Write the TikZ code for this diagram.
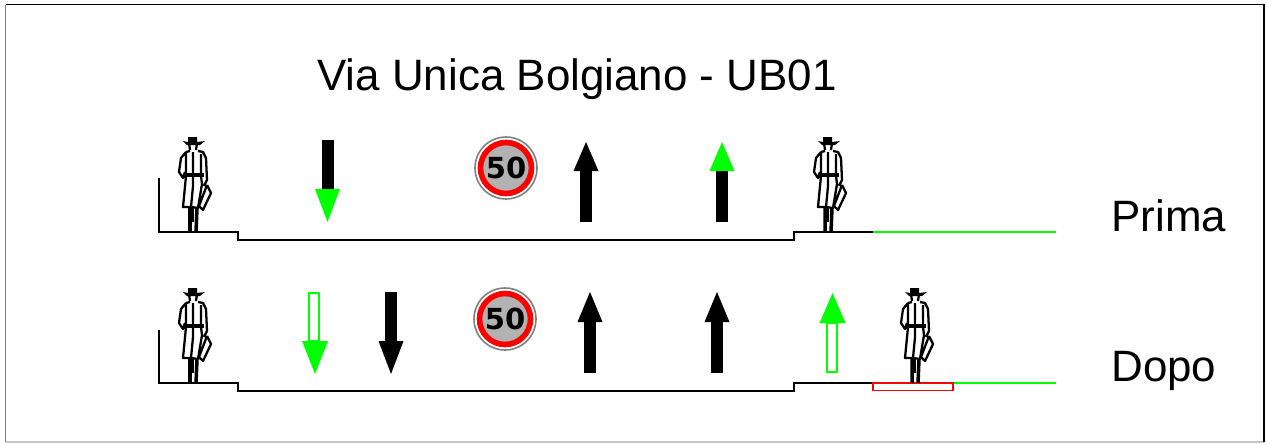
\documentclass[tikz,border=0pt]{standalone}
\usepackage{fontspec}
\setmainfont{Liberation Sans}
\newfontfamily\signfont{DejaVu Sans}
\definecolor{signgrey}{RGB}{178,178,178}
\definecolor{lanegreen}{RGB}{0,255,0}
\tikzset{
  road/.style={line width=1.2pt},
  roadgreen/.style={line width=1.2pt, draw=lanegreen},
  hollowshaft/.style={draw=lanegreen, line width=1.1pt},
  lanelabel/.style={font=\fontsize{25}{30}\selectfont, anchor=base west, inner sep=0pt},
  person/.pic={
    % figure stands with the feet at the origin
    \draw[line width=1.3pt, line join=round]
      (-7,-80) -- (-12,-74) -- (-14,-60) -- (-10,-54) -- (-8,-60)
      (-7,-80) -- (-3,-81) (5,-81) -- (10,-80) -- (13,-74) -- (14,-52) -- (11,-46)
      (-7,-80) -- (-7,-56) -- (-10,-25) -- (-2,-25) -- (0,-46)
      (0,-80) -- (0,-46) (8,-78) -- (8,-56) -- (9,-48) -- (5,-24) -- (-2,-25)
      (14,-47) -- (18,-39) -- (10,-22) -- (6,-26) -- (14,-47)
      (-4,-89) -- (-3,-82) (4,-89) -- (3,-82);
    \draw[line width=2.4pt] (-9,-57) -- (11,-57);
    \draw[line width=2pt] (-3,-24) -- (-3,0) (4,-24) -- (3,0);
    \draw[line width=1.2pt] (0,-24) -- (0,-10);
    \fill (-10,-91) -- (-5,-90) -- (-5,-95) -- (4,-95) -- (4,-90) -- (12,-91) -- (7,-87) -- (-6,-87) -- cycle;
  },
  speedsign/.pic={
    \draw[gray, line width=.9pt, fill=white] (0,0) circle (31);
    \draw[red, line width=3.2pt, fill=signgrey] (0,0) circle (25.5);
    \node[font=\signfont\bfseries\fontsize{16.5}{17}\selectfont, inner sep=0pt] at (0,0) {50};
  },
}
% arrows by x, shaft end y, head base y, tip y, then shaft and head colour
\newcommand{\lanearrow}[6]{
  \fill[#5] (#1-6,#2) rectangle (#1+6,#3);
  \fill[#6] (#1-12.5,#3) -- (#1+12.5,#3) -- (#1,#4) -- cycle;
}
\begin{document}
\begin{tikzpicture}[x=0.02cm, y=-0.02cm]
  \useasboundingbox (0,0) rectangle (1266,443);
  \draw[gray!45, line width=.6pt] (1264,442) -- (5.5,442);
  \draw[gray, line width=1pt] (5.5,442) -- (5.5,4.5);
  \draw[black, line width=1pt] (5.5,4.5) -- (1264,4.5) -- (1264,442);
  \node[font=\fontsize{25}{30}\selectfont, inner sep=0pt, anchor=base] (title) at (577,90) {Via Unica Bolgiano - UB01};
  \node[lanelabel] (prima) at (1111,231) {Prima};
  \node[lanelabel] (dopo) at (1111,381) {Dopo};
  % prima
  \draw[road] (159,178) -- (159,232) -- (238,232) -- (238,240) -- (794,240) -- (794,232) -- (873,232);
  \draw[roadgreen] (873,232) -- (1056,232);
  \pic at (193,232) {person};
  \pic at (828,232) {person};
  \lanearrow{327.5}{140}{189}{222}{black}{lanegreen}
  \pic at (506,168) {speedsign};
  \lanearrow{586}{222}{171}{142}{black}{black}
  \lanearrow{722}{222}{171}{142}{black}{lanegreen}
  % dopo
  \draw[road] (159,330) -- (159,383) -- (238,383) -- (238,391) -- (794,391) -- (794,383) -- (873,383);
  \draw[roadgreen] (953,383) -- (1056,383);
  \draw[red, line width=.9pt] (873,383) rectangle (953,390.5);
  \pic at (193,383) {person};
  \pic at (915,383) {person};
  \draw[hollowshaft] (309,293) rectangle (319,341);
  \fill[lanegreen] (302,341) -- (328,341) -- (315,374) -- cycle;
  \lanearrow{391}{292}{341}{374}{black}{black}
  \pic at (505,319) {speedsign};
  \lanearrow{590}{373}{322}{292}{black}{black}
  \lanearrow{717}{373}{322}{292}{black}{black}
  \draw[hollowshaft] (827,372) rectangle (837,323);
  \fill[lanegreen] (819.5,323) -- (845.5,323) -- (832.5,293) -- cycle;
\end{tikzpicture}
\end{document}
